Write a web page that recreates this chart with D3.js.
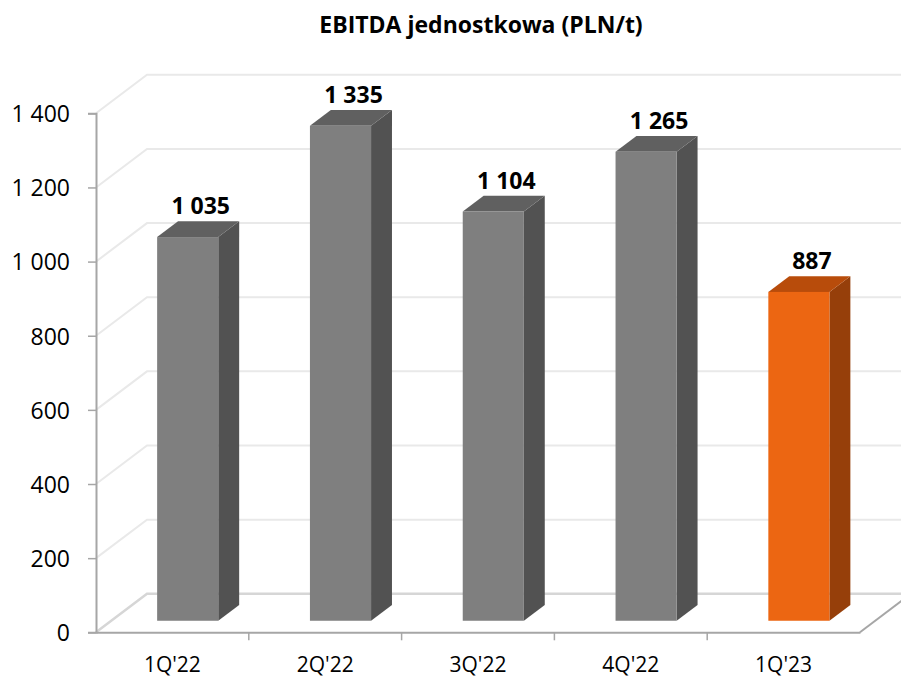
<!DOCTYPE html>
<html>
<head>
<meta charset="utf-8">
<script src="https://cdn.jsdelivr.net/npm/d3@7"></script>
<style>
  body { margin: 0; background: #fff; }
  svg text { font-family: "Open Sans", sans-serif; fill: #000; }
</style>
</head>
<body>
<div id="chart"></div>
<script>
// data
var categories = ["1Q'22", "2Q'22", "3Q'22", "4Q'22", "1Q'23"];
var values = [1035, 1335, 1104, 1265, 887];
var yTicks = [0, 200, 400, 600, 800, 1000, 1200, 1400];
var title = "EBITDA jednostkowa (PLN/t)";

var width = 901, height = 677;

var svg = d3.select("#chart")
    .append("svg")
        .attr("width", width)
        .attr("height", height);

var pl = d3.formatLocale({decimal: ",", thousands: " ", grouping: [3], currency: ["", " zł"]});
var fmt = pl.format(",d");

// front plane scales
var x = d3.scaleBand()
        .domain(categories)
        .range([96, 860]);
var y = d3.scaleLinear()
        .domain([0, 1400])
        .range([632.3, 113.3]);
// depth offset (0 = front, 1 = back wall)
var dX = d3.scaleLinear().domain([0, 1]).range([0, 51]);
var dY = d3.scaleLinear().domain([0, 1]).range([0, -38.5]);

function pt(px, py, z) { return [px + dX(z), py + dY(z)]; }

var gridColor = "#e9e9e9";
var x0 = x.range()[0], x1 = x.range()[1];

// back wall + left wall gridlines
yTicks.forEach(function(t) {
    var a = pt(x0, y(t), 0), b = pt(x0, y(t), 1), c = pt(x1, y(t), 1);
    svg.append("polyline")
        .attr("points", [a, b, c].map(function(p){ return p.join(","); }).join(" "))
        .attr("fill", "none")
        .attr("stroke", t === 0 ? "#d6d6d6" : gridColor)
        .attr("stroke-width", t === 0 ? 2.5 : 2);
});

// floor right edge
var fr0 = pt(x1, y(0), 0), fr1 = pt(x1, y(0), 1);
svg.append("line")
    .attr("x1", fr0[0]).attr("y1", fr0[1])
    .attr("x2", fr1[0]).attr("y2", fr1[1])
    .attr("stroke", "#a6a6a6").attr("stroke-width", 2);

// bars
var zFront = 0.3, zBack = 0.71;
var barW = x.bandwidth() * 0.4;

var bars = svg.selectAll("g.bar")
    .data(values)
    .enter()
    .append("g")
    .attr("class", "bar");

function faceColors(i) {
    if (i === values.length - 1) return {front: "#ec6612", top: "#b84c0b", side: "#963f0a"};
    return {front: "#7f7f7f", top: "#606060", side: "#525252"};
}

bars.each(function(d, i) {
    var g = d3.select(this);
    var c = faceColors(i);
    var left = x(categories[i]) + (x.bandwidth() - barW) / 2;
    var right = left + barW;
    var top = y(d), bot = y(0);

    var fTL = pt(left, top, zFront), fTR = pt(right, top, zFront),
        fBL = pt(left, bot, zFront), fBR = pt(right, bot, zFront),
        bTL = pt(left, top, zBack), bTR = pt(right, top, zBack),
        bBR = pt(right, bot, zBack);

    g.append("polygon")
        .attr("points", [fTR, bTR, bBR, fBR].map(function(p){ return p.join(","); }).join(" "))
        .attr("fill", c.side);
    g.append("polygon")
        .attr("points", [fTL, bTL, bTR, fTR].map(function(p){ return p.join(","); }).join(" "))
        .attr("fill", c.top);
    g.append("rect")
        .attr("x", fTL[0])
        .attr("y", fTL[1])
        .attr("width", barW)
        .attr("height", fBL[1] - fTL[1])
        .attr("fill", c.front);

    g.append("text")
        .attr("x", (fTL[0] + fTR[0]) / 2 + 13)
        .attr("y", bTL[1] - 7)
        .attr("text-anchor", "middle")
        .attr("font-size", "23px")
        .attr("font-weight", "bold")
        .text(fmt(d));
});

// y axis
var yAxis = svg.append("g")
    .attr("transform", "translate(" + x0 + ",0)")
    .call(d3.axisLeft(y).tickValues(yTicks).tickFormat(fmt).tickSize(8).tickPadding(18));
yAxis.select(".domain").attr("stroke", "#a6a6a6").attr("stroke-width", 2);
yAxis.selectAll(".tick line").attr("stroke", "#a6a6a6").attr("stroke-width", 1.5);
yAxis.selectAll(".tick text").attr("font-size", "23px").attr("font-family", "'Open Sans', sans-serif").attr("dy", "0.36em");

// x axis
var xAxis = svg.append("g")
    .attr("transform", "translate(0," + y(0) + ")")
    .call(d3.axisBottom(x).tickSize(0).tickPadding(25));
xAxis.select(".domain").attr("stroke", "#a6a6a6").attr("stroke-width", 2);
xAxis.selectAll(".tick text").attr("font-size", "21px").attr("font-family", "'Open Sans', sans-serif");
// tick marks on band boundaries
xAxis.selectAll("line.bound")
    .data(categories.slice(1))
    .enter()
    .append("line")
    .attr("class", "bound")
    .attr("x1", function(d) { return x(d); })
    .attr("x2", function(d) { return x(d); })
    .attr("y1", 0).attr("y2", 8)
    .attr("stroke", "#a6a6a6").attr("stroke-width", 1.5);

// title
svg.append("text")
    .attr("x", 481)
    .attr("y", 33)
    .attr("text-anchor", "middle")
    .attr("font-size", "23px")
    .attr("font-weight", "bold")
    .text(title);
</script>
</body>
</html>
